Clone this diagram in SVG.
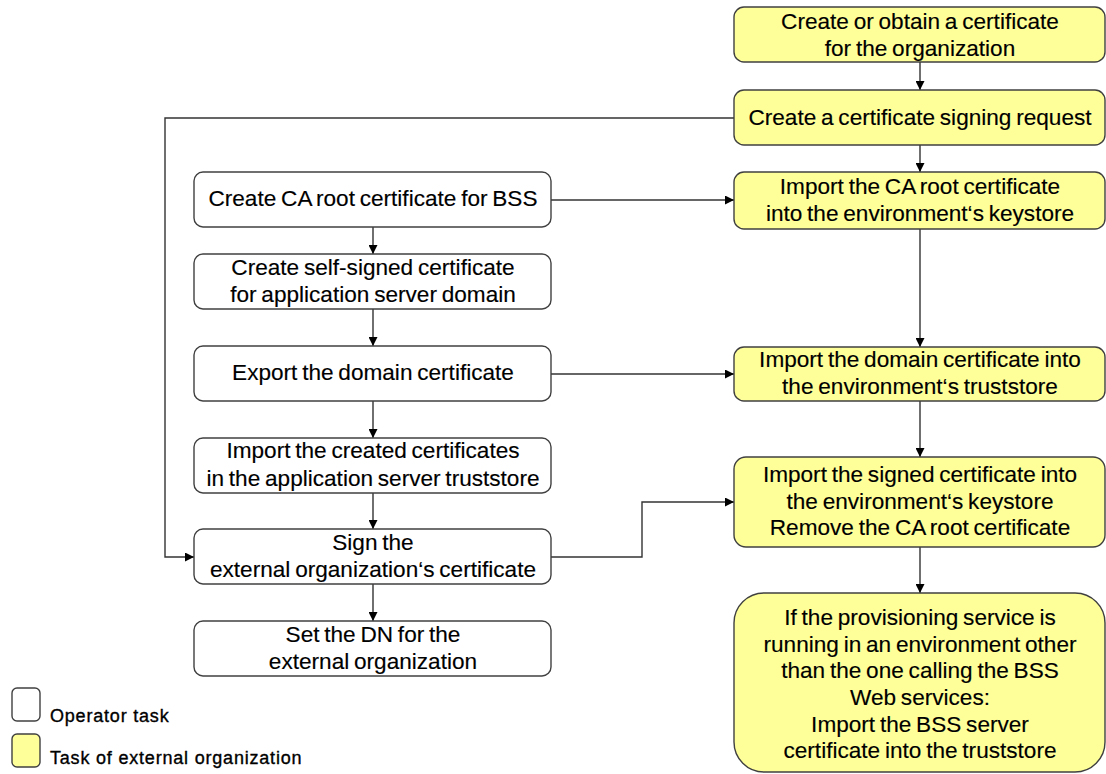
<svg xmlns="http://www.w3.org/2000/svg" width="1106" height="774" viewBox="0 0 1106 774">
<style>
.op{fill:#ffffff;stroke:#404040;stroke-width:1.4}
.ext{fill:#ffff99;stroke:#404040;stroke-width:1.4}
.t{font-family:"Liberation Sans",Arial,sans-serif;font-size:22.6px;fill:#000;text-anchor:middle;word-spacing:-1.5px;stroke:#000;stroke-width:0.15}
.lg{font-family:"Liberation Sans",Arial,sans-serif;font-size:18px;fill:#000;letter-spacing:0.8px;stroke:#000;stroke-width:0.35}
.c{fill:none;stroke:#333;stroke-width:1.4}
</style>
<defs>
<marker id="ah" viewBox="0 0 10 10" refX="10" refY="5" markerWidth="9" markerHeight="9" markerUnits="userSpaceOnUse" orient="auto">
<path d="M0,0 L10,5 L0,10 z" fill="#000"/>
</marker>
</defs>
<rect width="1106" height="774" fill="#ffffff"/>
<g id="connectors">
<path class="c" d="M920,62 V90" marker-end="url(#ah)"/>
<path class="c" d="M920,145 V172" marker-end="url(#ah)"/>
<path class="c" d="M920,229 V347" marker-end="url(#ah)"/>
<path class="c" d="M920,401 V457" marker-end="url(#ah)"/>
<path class="c" d="M920,547 V593" marker-end="url(#ah)"/>
<path class="c" d="M373,227 V254" marker-end="url(#ah)"/>
<path class="c" d="M373,309 V346" marker-end="url(#ah)"/>
<path class="c" d="M373,401 V438" marker-end="url(#ah)"/>
<path class="c" d="M373,493 V529" marker-end="url(#ah)"/>
<path class="c" d="M373,584 V621" marker-end="url(#ah)"/>
<path class="c" d="M551,200 H734" marker-end="url(#ah)"/>
<path class="c" d="M551,374 H734" marker-end="url(#ah)"/>
<path class="c" d="M551,557 H642 V502 H734" marker-end="url(#ah)"/>
<path class="c" d="M734,118 H165 V557 H194" marker-end="url(#ah)"/>
</g>
<g id="n_create_obtain">
<rect class="ext" x="734" y="7" width="371" height="55" rx="10"/>
<text class="t" x="920" y="29">Create or obtain a certificate</text>
<text class="t" x="920" y="56">for the organization</text>
</g>
<g id="n_csr">
<rect class="ext" x="734" y="90" width="371" height="55" rx="10"/>
<text class="t" x="920" y="125">Create a certificate signing request</text>
</g>
<g id="n_import_ca">
<rect class="ext" x="734" y="172" width="371" height="57" rx="10"/>
<text class="t" x="920" y="194">Import the CA root certificate</text>
<text class="t" x="920" y="221">into the environment‘s keystore</text>
</g>
<g id="n_import_domain">
<rect class="ext" x="734" y="347" width="371" height="54" rx="10"/>
<text class="t" x="920" y="367">Import the domain certificate into</text>
<text class="t" x="920" y="394">the environment‘s truststore</text>
</g>
<g id="n_import_signed">
<rect class="ext" x="734" y="457" width="371" height="90" rx="12"/>
<text class="t" x="920" y="482">Import the signed certificate into</text>
<text class="t" x="920" y="509">the environment‘s keystore</text>
<text class="t" x="920" y="535">Remove the CA root certificate</text>
</g>
<g id="n_provisioning">
<rect class="ext" x="734" y="593" width="371" height="179" rx="30"/>
<text class="t" x="920" y="625">If the provisioning service is</text>
<text class="t" x="920" y="652">running in an environment other</text>
<text class="t" x="920" y="678">than the one calling the BSS</text>
<text class="t" x="920" y="705">Web services:</text>
<text class="t" x="920" y="732">Import the BSS server</text>
<text class="t" x="920" y="758">certificate into the truststore</text>
</g>
<g id="n_ca_root">
<rect class="op" x="194" y="172" width="357" height="55" rx="9"/>
<text class="t" x="373" y="206">Create CA root certificate for BSS</text>
</g>
<g id="n_self_signed">
<rect class="op" x="194" y="254" width="357" height="55" rx="9"/>
<text class="t" x="373" y="275">Create self-signed certificate</text>
<text class="t" x="373" y="302">for application server domain</text>
</g>
<g id="n_export">
<rect class="op" x="194" y="346" width="357" height="55" rx="9"/>
<text class="t" x="373" y="380">Export the domain certificate</text>
</g>
<g id="n_import_created">
<rect class="op" x="194" y="438" width="357" height="55" rx="9"/>
<text class="t" x="373" y="458">Import the created certificates</text>
<text class="t" x="373" y="486">in the application server truststore</text>
</g>
<g id="n_sign">
<rect class="op" x="194" y="529" width="357" height="55" rx="9"/>
<text class="t" x="373" y="550">Sign the</text>
<text class="t" x="373" y="577">external organization‘s certificate</text>
</g>
<g id="n_set_dn">
<rect class="op" x="194" y="621" width="357" height="55" rx="9"/>
<text class="t" x="373" y="642">Set the DN for the</text>
<text class="t" x="373" y="669">external organization</text>
</g>
<g id="legend">
<rect class="op" x="12" y="688" width="28" height="33" rx="5"/>
<text class="lg" x="50" y="722">Operator task</text>
<rect class="ext" x="12" y="734" width="28" height="33" rx="5"/>
<text class="lg" x="50" y="764">Task of external organization</text>
</g>
</svg>
